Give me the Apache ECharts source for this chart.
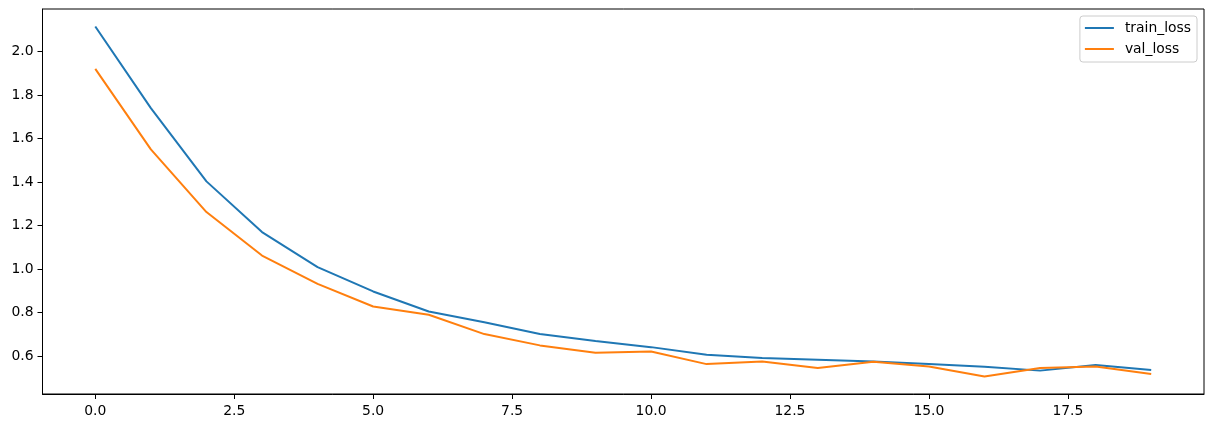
<!DOCTYPE html>
<html>
<head>
<meta charset="utf-8">
<script src="https://cdn.jsdelivr.net/npm/echarts@6/dist/echarts.min.js"></script>
<style>
html,body{margin:0;padding:0;background:#fff;}
#chart{width:1214px;height:428px;}
</style>
</head>
<body>
<div id="chart"></div>
<script>
const epochs = [0,1,2,3,4,5,6,7,8,9,10,11,12,13,14,15,16,17,18,19];
const trainLoss = [2.115, 1.740, 1.403, 1.170, 1.009, 0.897, 0.805, 0.755, 0.701, 0.669, 0.641, 0.606, 0.591, 0.583, 0.575, 0.563, 0.551, 0.533, 0.559, 0.536];
const valLoss = [1.920, 1.550, 1.262, 1.062, 0.932, 0.828, 0.790, 0.701, 0.649, 0.615, 0.621, 0.563, 0.575, 0.545, 0.574, 0.552, 0.506, 0.545, 0.552, 0.517];
const xTicks = [0, 2.5, 5, 7.5, 10, 12.5, 15, 17.5];
const yTicks = [0.6, 0.8, 1.0, 1.2, 1.4, 1.6, 1.8, 2.0];
const seriesNames = ['train_loss', 'val_loss'];
const colors = ['#1f77b4', '#ff7f0e'];

const chart = echarts.init(document.getElementById('chart'), null, {renderer: 'canvas'});
const font = 'DejaVu Sans';
const pair = (ys) => epochs.map((x, i) => [x, ys[i]]);
const xSpan = epochs[epochs.length - 1] - epochs[0];
const allY = trainLoss.concat(valLoss);
const yMinD = Math.min(...allY), yMaxD = Math.max(...allY);
const ySpan = yMaxD - yMinD;

chart.setOption({
  animation: false,
  backgroundColor: '#fff',
  grid: {
    left: 42.5, right: 10, top: 9, bottom: 34,
    show: true, borderColor: '#000', borderWidth: 1,
    containLabel: false, outerBoundsMode: 'none'
  },
  legend: {
    orient: 'vertical',
    right: 17, top: 16,
    data: seriesNames,
    icon: 'rect',
    itemWidth: 29, itemHeight: 2,
    itemGap: 7,
    padding: [5, 6, 6, 5],
    borderColor: '#cccccc', borderWidth: 1, borderRadius: 3,
    backgroundColor: 'rgba(255,255,255,0.8)',
    textStyle: {fontFamily: font, fontSize: 13.9, color: '#000', padding: [0, 0, 0, 6]}
  },
  xAxis: {
    type: 'value',
    min: epochs[0] - 0.05 * xSpan,
    max: epochs[epochs.length - 1] + 0.05 * xSpan,
    splitLine: {show: false},
    axisLine: {show: true, onZero: false, lineStyle: {color: '#000', width: 1}},
    axisTick: {show: true, customValues: xTicks, length: 5, inside: false, lineStyle: {color: '#000', width: 1}},
    axisLabel: {customValues: xTicks, formatter: v => v.toFixed(1), fontFamily: font, fontSize: 13.9, color: '#000', margin: 10}
  },
  yAxis: {
    type: 'value',
    min: yMinD - 0.05 * ySpan,
    max: yMaxD + 0.05 * ySpan,
    splitLine: {show: false},
    axisLine: {show: true, onZero: false, lineStyle: {color: '#000', width: 1}},
    axisTick: {show: true, customValues: yTicks, length: 5, inside: false, lineStyle: {color: '#000', width: 1}},
    axisLabel: {customValues: yTicks, formatter: v => v.toFixed(1), fontFamily: font, fontSize: 13.9, color: '#000', margin: 9}
  },
  series: [
    {name: seriesNames[0], type: 'line', data: pair(trainLoss), symbol: 'none', color: colors[0], lineStyle: {width: 2, color: colors[0]}},
    {name: seriesNames[1], type: 'line', data: pair(valLoss), symbol: 'none', color: colors[1], lineStyle: {width: 2, color: colors[1]}}
  ]
});
</script>
</body>
</html>
